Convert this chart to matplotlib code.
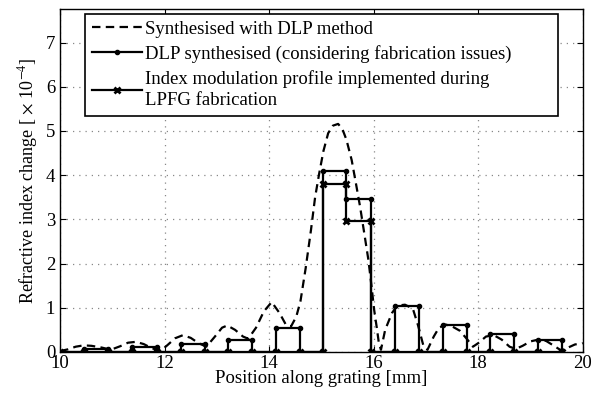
import matplotlib
matplotlib.use("Agg")
import matplotlib.pyplot as plt

plt.rcParams['font.family'] = ['Liberation Serif', 'DejaVu Serif']
plt.rcParams['mathtext.fontset'] = 'stix'

# Sample positions along the grating [mm]
positions = [10.0, 10.46, 10.92, 11.38, 11.85, 12.31, 12.77, 13.22, 13.68, 14.13,
             14.59, 15.04, 15.48, 15.94, 16.41, 16.86, 17.32, 17.78, 18.23, 18.69,
             19.14, 19.60]
# Level on each interval between consecutive positions (x 1e-4)
dlp_levels = [0, 0.07, 0, 0.12, 0, 0.17, 0, 0.28, 0, 0.55, 0, 4.09, 3.45, 0,
              1.05, 0, 0.61, 0, 0.40, 0, 0.27]
fab_levels = [0, 0, 0, 0, 0, 0, 0, 0, 0, 0, 0, 3.81, 2.96, 0,
              0, 0, 0, 0, 0, 0, 0]

# Continuous DLP-synthesised profile
dlp_x = [10.0, 10.15, 10.3, 10.45, 10.6, 10.8, 10.97, 11.15, 11.3, 11.45, 11.6, 11.75,
         11.92, 12.05, 12.2, 12.35, 12.5, 12.65, 12.8, 12.95, 13.1, 13.2, 13.35, 13.5,
         13.6, 13.75, 13.9, 14.05, 14.2, 14.32, 14.42, 14.52, 14.6, 14.7, 14.8, 14.88,
         14.96, 15.04, 15.13, 15.22, 15.32, 15.4, 15.48, 15.58, 15.66, 15.74, 15.82,
         15.9, 15.96, 16.01, 16.06, 16.1, 16.14, 16.22, 16.35, 16.45, 16.6, 16.75,
         16.85, 16.95, 17.03, 17.15, 17.25, 17.38, 17.5, 17.65, 17.78, 17.9, 18.0,
         18.15, 18.3, 18.45, 18.6, 18.72, 18.85, 19.0, 19.15, 19.3, 19.45, 19.58,
         19.72, 19.85, 20.0]
dlp_y = [0.02, 0.06, 0.12, 0.15, 0.14, 0.10, 0.05, 0.13, 0.21, 0.23, 0.18, 0.09,
         0.02, 0.15, 0.31, 0.38, 0.32, 0.20, 0.12, 0.33, 0.55, 0.60, 0.50, 0.35,
         0.30, 0.55, 0.92, 1.13, 0.88, 0.62, 0.58, 0.80, 1.15, 1.90, 2.75, 3.50,
         4.05, 4.55, 4.95, 5.12, 5.16, 5.05, 4.80, 4.34, 3.82, 3.29, 2.69,
         2.08, 1.48, 0.95, 0.55, 0.20, 0.05, 0.50, 0.88, 1.05, 1.07, 0.98,
         0.60, 0.15, 0.05, 0.35, 0.55, 0.62, 0.58, 0.48, 0.30, 0.12, 0.20,
         0.35, 0.38, 0.28, 0.12, 0.07, 0.14, 0.24, 0.28, 0.25, 0.14, 0.04,
         0.10, 0.17, 0.20]

labels = ['Synthesised with DLP method',
          'DLP synthesised (considering fabrication issues)',
          'Index modulation profile implemented during\nLPFG fabrication']


def stairs(pos, levels):
    xs, ys = [pos[0]], [0.0]
    cur = 0.0
    for i, L in enumerate(levels):
        if L != cur:
            xs.append(pos[i]); ys.append(L)
        xs.append(pos[i + 1]); ys.append(L)
        cur = L
    if cur != 0:
        xs.append(pos[-1]); ys.append(0.0)
    return xs, ys


FS = 13.5
fig = plt.figure(figsize=(6.05, 3.94), dpi=100)
ax = fig.add_axes([0.0992, 0.1066, 0.8640, 0.8706])

ax.plot(dlp_x, dlp_y, color='black', lw=1.6, linestyle=(0, (3.8, 2.4)),
        label=labels[0], zorder=3)
sx, sy = stairs(positions, dlp_levels)
ax.plot(sx, sy, color='black', lw=1.6, marker='.', markersize=6,
        label=labels[1], zorder=4)
fx, fy = stairs(positions, fab_levels)
ax.plot(fx, fy, color='black', lw=1.6, marker='x', markersize=4.5,
        markeredgewidth=2, label=labels[2], zorder=5)

ax.set_xlim(10, 20)
ax.set_ylim(0, 7.76)
ax.set_xticks([10, 12, 14, 16, 18, 20])
ax.set_yticks(range(0, 8))
ax.grid(True, color='#888888', linestyle=(0, (1, 4)), linewidth=0.9)
ax.tick_params(direction='in', top=True, right=True, length=4, labelsize=FS,
               width=0.8)
ax.tick_params(axis='x', pad=2)
for s in ax.spines.values():
    s.set_linewidth(1.0)

ax.set_xlabel('Position along grating [mm]', fontsize=FS, labelpad=-1)
ax.set_ylabel(r'Refractive index change [ $\times$ 10$^{-4}$]', fontsize=13,
              labelpad=4)

leg = ax.legend(loc='upper left', bbox_to_anchor=(0.048, 0.5, 0.905, 0.485),
                mode='expand', borderaxespad=0, fancybox=False,
                edgecolor='black', framealpha=1, fontsize=FS,
                handlelength=2.7, handletextpad=0.15, labelspacing=0.38,
                borderpad=0.35)
for t in leg.get_texts():
    t.set_linespacing(1.35)
leg.get_frame().set_linewidth(1.2)

fig.savefig('out.png', dpi=100)
